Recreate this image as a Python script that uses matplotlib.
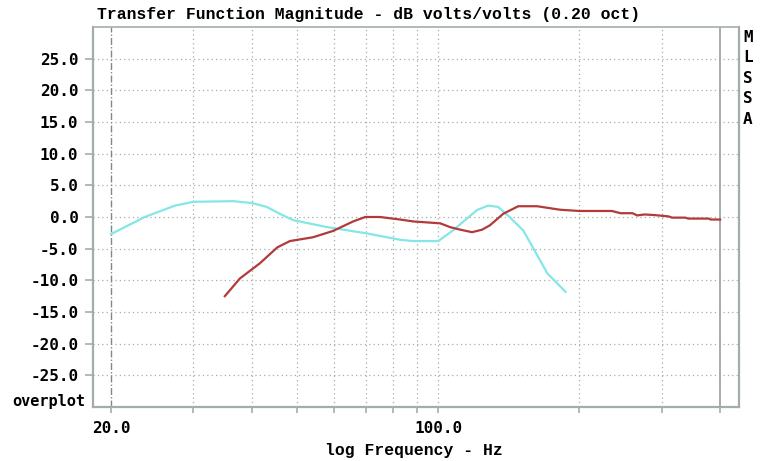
#! /usr/bin/env python3
# transfer function magnitude overplot, MLSSA style
import matplotlib
matplotlib.use("Agg")
import matplotlib.pyplot as plt
from matplotlib.ticker import FixedLocator, NullFormatter, NullLocator

# cyan trace
cyan_freq = [20.0, 23.6, 27.4, 30.0, 36.5, 40.0, 43.0, 45.9, 49.0, 57.9, 70.5,
             82.9, 88.4, 100.0, 107.6, 121.0, 127.8, 134.2, 142.0, 151.8,
             159.5, 171.0, 187.0]
cyan_db = [-2.7, 0.0, 1.8, 2.4, 2.5, 2.2, 1.6, 0.5, -0.5, -1.6, -2.6,
           -3.6, -3.8, -3.8, -2.1, 1.1, 1.8, 1.6, 0.0, -2.1,
           -4.9, -8.9, -11.8]

# red trace
red_freq = [35.0, 37.7, 41.6, 45.3, 48.2, 54.0, 59.6, 65.8, 69.8, 75.1, 82.9,
            88.4, 101.0, 106.0, 111.4, 118.1, 124.1, 129.0, 137.6, 148.2,
            162.6, 182.0, 200.0, 235.0, 245.0, 260.0, 266.0, 276.0, 290.0,
            310.0, 316.0, 337.0, 342.0, 378.0, 382.0, 400.0]
red_db = [-12.5, -9.7, -7.3, -4.8, -3.8, -3.2, -2.2, -0.7, 0.0, 0.0, -0.4,
          -0.7, -1.0, -1.6, -2.0, -2.4, -2.0, -1.3, 0.5, 1.7,
          1.7, 1.15, 0.95, 0.95, 0.6, 0.6, 0.25, 0.4, 0.3,
          0.1, -0.1, -0.1, -0.25, -0.25, -0.4, -0.4]

grid_freqs = [30, 40, 50, 60, 70, 80, 90, 100, 200, 300]
tick_freqs = [20, 30, 40, 50, 60, 70, 80, 90, 100, 200, 300, 400]
x_labels = {20: "20.0", 100: "100.0"}
y_ticks = [-25, -20, -15, -10, -5, 0, 5, 10, 15, 20, 25]

gray = "#a4adad"
label_font = "DejaVu Sans Mono"
title_font = "Liberation Mono"

fig = plt.figure(figsize=(7.6, 4.61), dpi=100)
ax = fig.add_axes([93 / 760, 54 / 461, 646 / 760, 380 / 461])
ax.set_xscale("log")
ax.set_xlim(18.3, 439)
ax.set_ylim(-30, 30)

for f in grid_freqs:
    ax.axvline(f, color=gray, lw=0.9, ls=(0, (1, 2.5)), zorder=1)
for v in y_ticks:
    ax.axhline(v, color=gray, lw=0.9, ls=(0, (1, 2.5)), zorder=1)
ax.axvline(20, color="#7d8a8a", lw=1.0, ls=(0, (5, 1.5, 1, 1.5)), zorder=1)
ax.axvline(400, color=gray, lw=1.4, zorder=1)

ax.plot(cyan_freq, cyan_db, color="#84e6e6", lw=1.6, zorder=3)
ax.plot(red_freq, red_db, color="#b23a3a", lw=1.6, zorder=4)

for s in ax.spines.values():
    s.set_color(gray)
    s.set_linewidth(1.6)
ax.spines["top"].set_linewidth(1.2)

ax.xaxis.set_major_locator(FixedLocator(tick_freqs))
ax.xaxis.set_minor_locator(NullLocator())
ax.xaxis.set_minor_formatter(NullFormatter())
ax.set_xticklabels([x_labels.get(f, "") for f in tick_freqs],
                   family=label_font, fontweight="bold", fontsize=11.5)
ax.set_yticks(y_ticks)
ax.set_yticklabels(["%.1f" % v for v in y_ticks],
                   family=label_font, fontweight="bold", fontsize=11.5)
ax.tick_params(axis="x", length=4, width=1.2, color=gray, pad=6)
ax.tick_params(axis="y", length=5.5, width=1.2, color=gray, pad=5)

ax.text(0.006, 1.012, "Transfer Function Magnitude - dB volts/volts (0.20 oct)",
        transform=ax.transAxes, ha="left", va="bottom",
        family=title_font, fontweight="bold", fontsize=11.8)
ax.text((414 - 93) / 646, -43 / 380, "log Frequency - Hz", transform=ax.transAxes,
        ha="center", va="center", family=title_font, fontweight="bold",
        fontsize=11.8)
fig.text(748 / 760, 1 - 30 / 461, "M\nL\nS\nS\nA", ha="center", va="top",
         family=label_font, fontweight="bold", fontsize=11.5, linespacing=1.45)
fig.text(49 / 760, 1 - 401 / 461, "overplot", ha="center", va="center",
         family=label_font, fontweight="bold", fontsize=11)

fig.savefig("out.png", dpi=100)
plt.close("all")
